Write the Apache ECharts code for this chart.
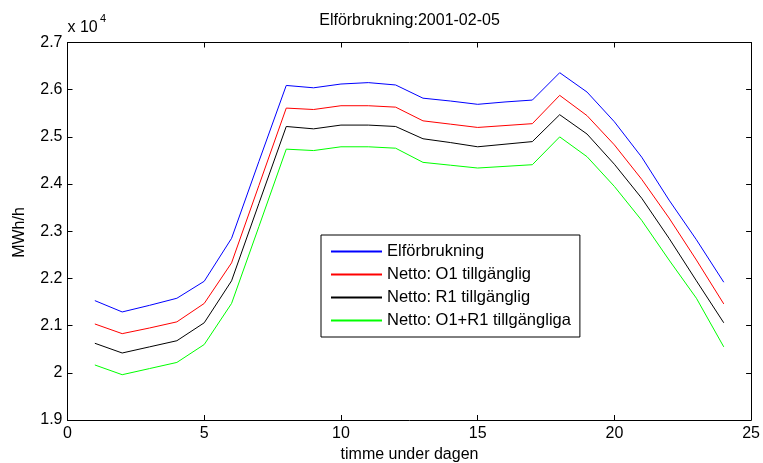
<!DOCTYPE html>
<html>
<head>
<meta charset="utf-8">
<script src="https://cdn.jsdelivr.net/npm/echarts@6/dist/echarts.min.js"></script>
<style>html,body{margin:0;padding:0;background:#fff;}#c{width:763px;height:463px;}</style>
</head>
<body>
<div id="c"></div>
<script>
const hours = [1,2,3,4,5,6,7,8,9,10,11,12,13,14,15,16,17,18,19,20,21,22,23,24];
const seriesNames = ['Elförbrukning','Netto: O1 tillgänglig','Netto: R1 tillgänglig','Netto: O1+R1 tillgängliga'];
const elforbrukning = [21530,21290,21430,21580,21940,22850,24480,26090,26040,26120,26150,26100,25820,25760,25690,25740,25780,26360,25950,25320,24570,23660,22820,21920];
const nettoO1 = [21035,20830,20950,21080,21470,22330,23970,25610,25580,25660,25660,25630,25340,25270,25200,25240,25280,25880,25450,24830,24100,23280,22390,21460];
const nettoR1 = [20626,20420,20550,20680,21060,21950,23590,25220,25170,25250,25250,25220,24960,24880,24790,24845,24900,25470,25060,24420,23700,22850,21950,21060];
const nettoO1R1 = [20166,19960,20090,20220,20600,21470,23100,24740,24710,24790,24790,24760,24460,24400,24340,24375,24410,25000,24580,23950,23230,22390,21580,20550];
const xTicks = {min:0, max:25, interval:5};
const yTicks = {min:19000, max:27000, interval:1000};
const titleText = 'Elförbrukning:2001-02-05';
const xName = 'timme under dagen';
const yName = 'MWh/h';

const FONT = "'Liberation Sans', Arial, sans-serif";
const colors = ['#0000ff','#ff0000','#000000','#00ff00'];
const values = [elforbrukning, nettoO1, nettoR1, nettoO1R1];

const chart = echarts.init(document.getElementById('c'), null, {renderer:'canvas'});
const axisCommon = {
  axisLine:{show:true,onZero:false,lineStyle:{color:'#000',width:1}},
  axisTick:{show:true,inside:true,length:5,lineStyle:{color:'#000',width:1}},
  splitLine:{show:false}
};
chart.setOption({
  animation:false,
  backgroundColor:'#fff',
  color:colors,
  grid:{left:67.5,top:42.5,right:11.5,bottom:43,containLabel:false},
  xAxis:[
    Object.assign({type:'value',position:'bottom',min:xTicks.min,max:xTicks.max,interval:xTicks.interval,
      axisLabel:{color:'#000',fontSize:16,fontFamily:FONT,margin:6}}, axisCommon),
    Object.assign({type:'value',position:'top',min:xTicks.min,max:xTicks.max,interval:xTicks.interval,
      axisLabel:{show:false}}, axisCommon)
  ],
  yAxis:[
    Object.assign({type:'value',position:'left',min:yTicks.min,max:yTicks.max,interval:yTicks.interval,
      axisLabel:{color:'#000',fontSize:16,fontFamily:FONT,margin:5,
        formatter:v=>String(parseFloat((v/10000).toFixed(1)))}}, axisCommon),
    Object.assign({type:'value',position:'right',min:yTicks.min,max:yTicks.max,interval:yTicks.interval,
      axisLabel:{show:false}}, axisCommon)
  ],
  legend:{
    orient:'vertical',left:321,top:235,
    padding:[8,9,8,10],
    itemWidth:51,itemHeight:2,itemGap:6,
    icon:'rect',
    backgroundColor:'#fff',borderColor:'#000',borderWidth:1,
    textStyle:{color:'#000',fontSize:16.5,fontFamily:FONT,lineHeight:17},
    data:seriesNames.map((n,i)=>({name:n,icon:'rect',itemStyle:{color:colors[i],borderWidth:0},lineStyle:{color:colors[i],width:0}}))
  },
  series: seriesNames.map((n,i)=>({
    name:n,type:'line',xAxisIndex:0,yAxisIndex:0,
    symbol:'none',showSymbol:false,
    color:colors[i],
    lineStyle:{color:colors[i],width:1},
    itemStyle:{color:colors[i]},
    data: hours.map((h,j)=>[h, values[i][j]])
  })),
  graphic:[
    {type:'text',style:{text:titleText,fill:'#000',font:'16px '+FONT,textAlign:'center',textVerticalAlign:'middle'},x:409.5,y:21},
    {type:'text',style:{text:xName,fill:'#000',font:'16px '+FONT,textAlign:'center',textVerticalAlign:'middle'},x:409.5,y:455},
    {type:'text',rotation:Math.PI/2,style:{text:yName,fill:'#000',font:'16px '+FONT,textAlign:'center',textVerticalAlign:'middle'},x:20,y:232.5},
    {type:'text',style:{text:'x 10',fill:'#000',font:'16px '+FONT,textAlign:'left',textVerticalAlign:'middle'},x:67.5,y:28},
    {type:'text',style:{text:'4',fill:'#000',font:'11px '+FONT,textAlign:'left',textVerticalAlign:'middle'},x:100,y:19}
  ]
});
</script>
</body>
</html>
